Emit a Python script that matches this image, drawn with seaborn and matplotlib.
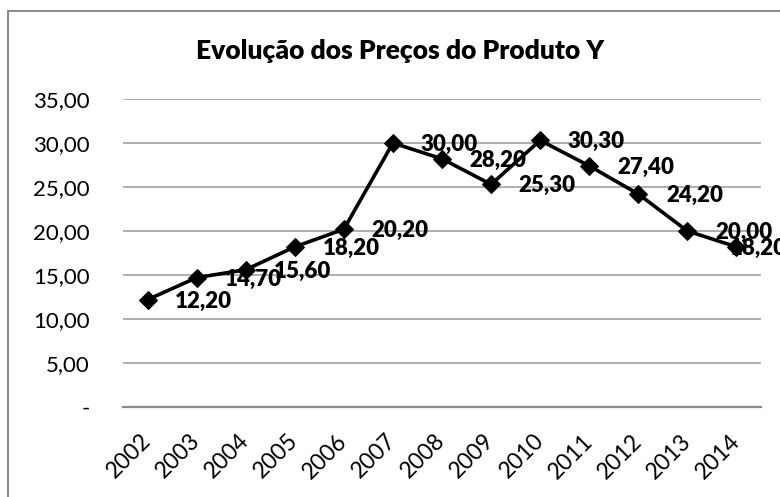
import matplotlib
matplotlib.use("Agg")
import matplotlib.pyplot as plt
import seaborn as sns
import pandas as pd
from matplotlib.patches import Rectangle

years = ["2002", "2003", "2004", "2005", "2006", "2007", "2008",
         "2009", "2010", "2011", "2012", "2013", "2014"]
prices = [12.2, 14.7, 15.6, 18.2, 20.2, 30.0, 28.2, 25.3, 30.3, 27.4, 24.2, 20.0, 18.2]
yticks = [0, 5, 10, 15, 20, 25, 30, 35]
ytick_labels = ["-", "5,00", "10,00", "15,00", "20,00", "25,00", "30,00", "35,00"]
title = "Evolução dos Preços do Produto Y"

sns.set_theme(style="white")
plt.rcParams["font.family"] = ["Lato", "DejaVu Sans"]

df = pd.DataFrame({"Ano": years, "Preço": prices})

W, H = 780, 497
fig = plt.figure(figsize=(W / 100, H / 100), dpi=100)
ax = fig.add_axes([123 / W, (H - 407) / H, (761 - 123) / W, (407 - 99) / H])

# chart border
fig.patches.append(Rectangle((7.5 / W, -0.1), 1.2, (H - 10.5) / H + 0.1,
                             transform=fig.transFigure, fill=False,
                             edgecolor="#8c8c8c", linewidth=1.5))

sns.lineplot(data=df, x="Ano", y="Preço", ax=ax, color="black", linewidth=2.6,
             marker="D", markersize=9, markeredgecolor="black",
             markerfacecolor="black", sort=False)

ax.set_xlim(-0.5, len(years) - 0.5)
ax.set_ylim(0, 35)
ax.set_yticks(yticks)
ax.set_yticklabels(ytick_labels)
ax.yaxis.grid(True, color="#999999", linewidth=1.1)
ax.xaxis.grid(False)
ax.set_axisbelow(True)
for s in ["top", "right", "left"]:
    ax.spines[s].set_visible(False)
ax.spines["bottom"].set_color("#8c8c8c")
ax.spines["bottom"].set_linewidth(1.6)
ax.tick_params(axis="y", length=0, pad=24, labelsize=16, labelcolor="black")
ax.tick_params(axis="x", length=0, pad=22, labelsize=16.5, labelcolor="black")
for lbl in ax.get_xticklabels():
    lbl.set_rotation(45)
    lbl.set_ha("right")
    lbl.set_va("center")
    lbl.set_rotation_mode("anchor")
ax.set_xlabel("")
ax.set_ylabel("")

for i, v in enumerate(prices):
    dx = 20 if i < len(prices) - 1 else -5
    ax.annotate(f"{v:.2f}".replace(".", ","), (i, v), xytext=(dx, -1),
                textcoords="offset points", ha="left", va="center",
                fontsize=16, fontweight="heavy", color="black",
                annotation_clip=False)

fig.text(400 / W, (H - 51) / H, title, ha="center", va="center",
         fontsize=19, fontweight="heavy", color="black")

fig.savefig("out.png", dpi=100)
